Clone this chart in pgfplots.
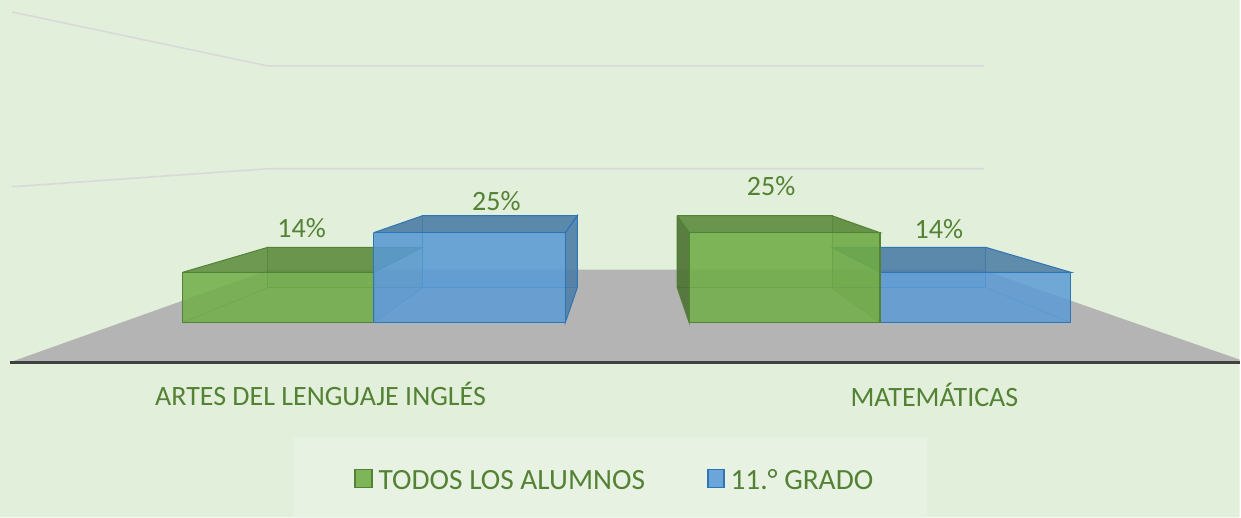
\documentclass[border=0pt]{standalone}
\usepackage{pgfplots}
\pgfplotsset{compat=1.18}
\usepackage{fontspec}
\setmainfont{Carlito}
\definecolor{bg}{HTML}{E2EFDA}
\definecolor{legbg}{HTML}{E8F2E3}
\definecolor{txt}{HTML}{548235}
\definecolor{gridc}{HTML}{D9D9D9}
\definecolor{floorc}{HTML}{B4B4B4}
\definecolor{axisc}{HTML}{404040}
\definecolor{gfront}{HTML}{70AD47}
\definecolor{gtop}{HTML}{5A8A3A}
\definecolor{gedge}{HTML}{548235}
\definecolor{bfront}{HTML}{5B9BD5}
\definecolor{btop}{HTML}{4A7BA5}
\definecolor{bedge}{HTML}{2E75B6}
\begin{document}
\begin{tikzpicture}
% values (percent)
\def\vA{14}% ELA, todos
\def\vB{25}% ELA, 11 grado
\def\vC{25}% Mate, todos
\def\vD{14}% Mate, 11 grado
% front plane: base 323, 3.6 px per %; back plane: base 288, 2.88 px per %
\pgfmathsetmacro\fA{323-3.6*\vA}\pgfmathsetmacro\bA{288-2.88*\vA}
\pgfmathsetmacro\fB{323-3.6*\vB}\pgfmathsetmacro\bB{288-2.88*\vB}
\pgfmathsetmacro\fC{323-3.6*\vC}\pgfmathsetmacro\bC{288-2.88*\vC}
\pgfmathsetmacro\fD{323-3.6*\vD}\pgfmathsetmacro\bD{288-2.88*\vD}
\begin{axis}[
  x=1bp, y=1bp, y dir=reverse,
  xmin=0, xmax=1241, ymin=0, ymax=518,
  hide axis, clip=false, scale only axis,
  font=\fontsize{28bp}{34bp}\selectfont,
  legend columns=2,
  legend style={at={(axis cs:615.5,481)}, anchor=center, draw=none, fill=none,
    text=txt, font=\fontsize{29.4bp}{35bp}\selectfont,
    /tikz/every odd column/.append style={column sep=4bp},
    /tikz/every even column/.append style={column sep=60bp}},
  legend cell align=left,
]
% background
\addplot[draw=none, fill=bg, forget plot] coordinates {(0,0) (1241,0) (1241,518) (0,518) (0,0)};
% back wall / side wall gridlines
\addplot[draw=gridc, line width=1.6bp, forget plot] coordinates {(12,12) (268,66) (985,66)};
\addplot[draw=gridc, line width=1.6bp, forget plot] coordinates {(12,187) (268,169) (985,169)};
% floor
\addplot[draw=none, fill=floorc, forget plot] coordinates {(12,362) (270,270) (983,270) (1241,360) (1241,362) (12,362)};
% ===== Bar 1: ELA todos (green), view from right
\addplot[draw=gedge, fill=gfront, fill opacity=0.25, line width=0.8bp, forget plot] coordinates {(268,\bA) (423,\bA) (423,288) (268,288) (268,\bA)};
\addplot[draw=gedge, line width=0.8bp, draw opacity=0.6, forget plot] coordinates {(183,323) (268,288)};
\addplot[draw=gedge, fill=gtop, fill opacity=0.85, line width=1bp, forget plot] coordinates {(183,\fA) (268,\bA) (423,\bA) (375,\fA) (183,\fA)};
\addplot[draw=gedge, fill=gfront, fill opacity=0.85, line width=1.2bp, forget plot] coordinates {(183,\fA) (375,\fA) (375,323) (183,323) (183,\fA)};
% ===== Bar 2: ELA 11 grado (blue)
\addplot[draw=bedge, fill=bfront, fill opacity=0.25, line width=0.8bp, forget plot] coordinates {(423,\bB) (578,\bB) (578,288) (423,288) (423,\bB)};
\addplot[draw=none, fill=btop, fill opacity=0.25, forget plot] coordinates {(374,\fB) (423,\bB) (423,288) (374,323) (374,\fB)};
\addplot[draw=bedge, line width=0.8bp, draw opacity=0.6, forget plot] coordinates {(374,323) (423,288)};
\addplot[draw=bedge, fill=btop, fill opacity=0.85, line width=1bp, forget plot] coordinates {(566,\fB) (578,\bB) (578,288) (566,323) (566,\fB)};
\addplot[draw=bedge, fill=btop, fill opacity=0.85, line width=1bp, forget plot] coordinates {(374,\fB) (423,\bB) (578,\bB) (566,\fB) (374,\fB)};
\addplot[draw=bedge, fill=bfront, fill opacity=0.85, line width=1.2bp, forget plot] coordinates {(374,\fB) (566,\fB) (566,323) (374,323) (374,\fB)};
% ===== Bar 4: Mate 11 grado (blue), behind bar 3 on the left
\addplot[draw=bedge, fill=bfront, fill opacity=0.25, line width=0.8bp, forget plot] coordinates {(833,\bD) (987,\bD) (987,288) (833,288) (833,\bD)};
\addplot[draw=bedge, line width=0.8bp, draw opacity=0.6, forget plot] coordinates {(1072,323) (987,288)};
\addplot[draw=bedge, fill=btop, fill opacity=0.85, line width=1bp, forget plot] coordinates {(881,\fD) (833,\bD) (987,\bD) (1072,\fD) (881,\fD)};
\addplot[draw=bedge, fill=bfront, fill opacity=0.85, line width=1.2bp, forget plot] coordinates {(881,\fD) (1072,\fD) (1072,323) (881,323) (881,\fD)};
% ===== Bar 3: Mate todos (green), view from left
\addplot[draw=gedge, fill=gfront, fill opacity=0.25, line width=0.8bp, forget plot] coordinates {(678,\bC) (833,\bC) (833,288) (678,288) (678,\bC)};
\addplot[draw=none, fill=gtop, fill opacity=0.35, forget plot] coordinates {(833,\bC) (881,\fC) (881,323) (833,288) (833,\bC)};
\addplot[draw=gedge, line width=0.8bp, draw opacity=0.6, forget plot] coordinates {(881,323) (833,288)};
\addplot[draw=gedge, fill=gtop!80!black, fill opacity=0.85, line width=1bp, forget plot] coordinates {(678,\bC) (690,\fC) (690,323) (678,288) (678,\bC)};
\addplot[draw=gedge, fill=gtop, fill opacity=0.85, line width=1bp, forget plot] coordinates {(678,\bC) (833,\bC) (881,\fC) (690,\fC) (678,\bC)};
\addplot[draw=gedge, fill=gfront, fill opacity=0.85, line width=1.2bp, forget plot] coordinates {(690,\fC) (881,\fC) (881,323) (690,323) (690,\fC)};
% axis line
\addplot[draw=axisc, line width=3bp, forget plot] coordinates {(10,362.5) (1241,362.5)};
% legend box
\addplot[draw=none, fill=legbg, forget plot] coordinates {(294,438) (928,438) (928,518) (294,518) (294,438)};
% value labels
\node[anchor=base, text=txt] at (axis cs:302,238) {\vA\%};
\node[anchor=base, text=txt] at (axis cs:497,211) {\vB\%};
\node[anchor=base, text=txt] at (axis cs:772,196) {\vC\%};
\node[anchor=base, text=txt] at (axis cs:940,239) {\vD\%};
% category labels
\node[anchor=base, text=txt] at (axis cs:321,406) {ARTES DEL LENGUAJE INGLÉS};
\node[anchor=base, text=txt] at (axis cs:935.5,407) {MATEMÁTICAS};
% legend
\addlegendimage{legend image code/.code={\draw[draw=gedge, fill=gfront!90!white, line width=1.5bp] (0bp,-7bp) rectangle (17bp,11bp);}}
\addlegendentry{TODOS LOS ALUMNOS}
\addlegendimage{legend image code/.code={\draw[draw=bedge, fill=bfront!90!white, line width=1.5bp] (0bp,-7bp) rectangle (16bp,11bp);}}
\addlegendentry{11.° GRADO}
\end{axis}
\end{tikzpicture}
\end{document}
